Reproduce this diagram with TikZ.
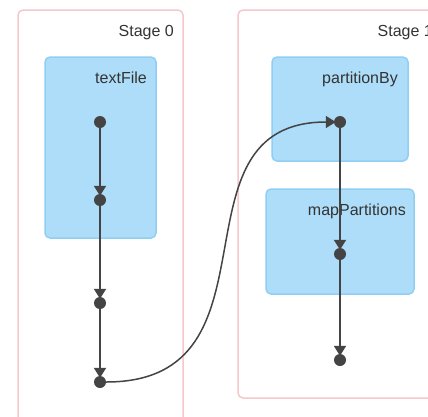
\documentclass[tikz,border=0pt]{standalone}
\usepackage{fontspec}
\setmainfont{Liberation Sans}
\usetikzlibrary{arrows.meta}

\definecolor{stageline}{HTML}{F5C8CE}
\definecolor{opfill}{HTML}{ADDDF9}
\definecolor{opline}{HTML}{90CFF4}
\definecolor{depcol}{HTML}{444444}
\definecolor{labelcol}{HTML}{333333}

\begin{document}
\begin{tikzpicture}[x=1pt, y=-1pt,
	stage/.style={draw=stageline, line width=1.5pt, fill=white, rounded corners=5pt},
	op/.style={draw=opline, line width=1.5pt, fill=opfill, rounded corners=5pt},
	title/.style={anchor=base east, text=labelcol, inner sep=0pt, font=\fontsize{16}{19}\selectfont},
	rdd/.style={circle, fill=depcol, inner sep=0pt, minimum size=12pt},
	dep/.style={draw=depcol, line width=2pt, shorten >=-2pt, -{Triangle[width=12pt, length=10pt]}}]

	\useasboundingbox
		(0,0) rectangle (428,416);
	\clip
		(0,0) rectangle (428,416);

	% stages
	\draw [stage]
		(18,10) rectangle (183,440);
	\node [title] (stage0) at (174,36) {Stage 0};

	\draw [stage]
		(238,10) rectangle (450,398);
	\node [title] (stage1) at (433,36) {Stage 1};

	% operations
	\draw [op]
		(45,57) rectangle (156,238);
	\node [title] (textFile) at (147,83) {textFile};

	\draw [op]
		(272,57) rectangle (408,161);
	\node [title] (partitionBy) at (398,83) {partitionBy};

	\draw [op]
		(266,189) rectangle (414,294);
	\node [title] (mapPartitions) at (406,215) {mapPartitions};

	% rdds
	\node [rdd] (r0) at (100,122) {};
	\node [rdd] (r1) at (100,200) {};
	\node [rdd] (r2) at (100,303) {};
	\node [rdd] (r3) at (100,382) {};
	\node [rdd] (r4) at (340,122) {};
	\node [rdd] (r5) at (340,254) {};
	\node [rdd] (r6) at (340,360) {};

	\draw [dep] (r0) -- (r1);
	\draw [dep] (r1) -- (r2);
	\draw [dep] (r2) -- (r3);
	\draw [dep] (r4) -- (r5);
	\draw [dep] (r5) -- (r6);

	\draw [dep, line width=1.5pt]
		(r3) to [out=0, in=180, out distance=183pt, in distance=170pt] (r4);
\end{tikzpicture}
\end{document}
